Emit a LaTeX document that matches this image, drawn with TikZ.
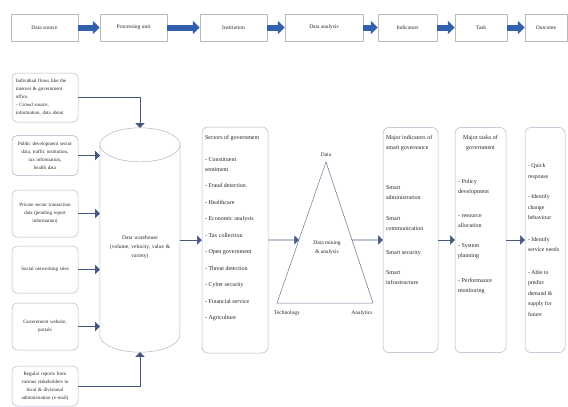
\documentclass[tikz,border=0pt]{standalone}
\usepackage{fontspec}
\setmainfont{Liberation Serif}
\usetikzlibrary{arrows,arrows.meta,calc}
\definecolor{boxgray}{RGB}{172,180,198}
\definecolor{stagegray}{RGB}{185,185,190}
\definecolor{linkblue}{RGB}{70,88,128}
\definecolor{fatblue}{RGB}{50,96,172}

\tikzset{
  stage/.style={draw=stagegray, line width=0.5pt, minimum height=27pt, inner sep=1pt,
    text=black!85, font=\fontsize{5.5}{7}\selectfont},
  source/.style={draw=boxgray, line width=0.5pt, rounded corners=5pt, minimum width=66pt,
    text width=58pt, align=center, inner sep=2pt, text=black!85, font=\fontsize{5}{8}\selectfont},
  column/.style={draw=boxgray, line width=0.5pt, rounded corners=6pt, inner xsep=3pt,
    inner ysep=6pt, text=black!85, font=\fontsize{6}{10}\selectfont},
  fat/.style={line width=6pt, fatblue, -{Triangle[length=7pt,width=13pt]}},
  link/.style={linkblue, line width=0.6pt, ->},
  lbl/.style={inner sep=1pt, text=black!85, font=\fontsize{5.5}{9}\selectfont}
}

\begin{document}
\begin{tikzpicture}[x=1pt, y=-1pt, >=triangle 90]
\useasboundingbox (0,0) rectangle (568,407);
% top row of stages
\node[stage, minimum width=67pt] (tsrc)  at (44.5,27.5)  {Data source};
\node[stage, minimum width=67pt] (tproc) at (133.5,27.5) {Processing unit};
\node[stage, minimum width=67pt] (tinst) at (233.5,27.5) {Institution};
\node[stage, minimum width=78pt] (tana)  at (324,27.5)   {Data analysis};
\node[stage, minimum width=59pt] (tind)  at (407.5,27.5) {Indicators};
\node[stage, minimum width=52pt] (ttask) at (481,27.5)   {Task};
\node[stage, minimum width=42pt] (tout)  at (546,27.5)   {Outcome};
\draw[fat] (tsrc) -- (tproc);
\draw[fat] (tproc) -- (tinst);
\draw[fat] (tinst) -- (tana);
\draw[fat] (tana) -- (tind);
\draw[fat] (tind) -- (ttask);
\draw[fat] (ttask) -- (tout);

% data sources
\node[source, minimum height=49pt, align=left] (src1) at (45,97.5)
  {Individual flows like the\\ internet \& government\\ office.\\ - Crowd source,\\ information, data about};
\node[source, minimum height=40pt] (src2) at (45,155.5)
  {Public development sector\\ data, traffic institution,\\ tax information,\\ health data};
\node[source, minimum height=47pt] (src3) at (45,213.5)
  {Private sector transaction\\ data (pending report\\ information)};
\node[source, minimum height=47pt] (src4) at (45,269.5) {Social networking sites};
\node[source, minimum height=47pt] (src5) at (45,326.5) {Government website,\\ portals};
\node[source, minimum height=40pt] (src6) at (45,386)
  {Regular reports from\\ various stakeholders to\\ local \& divisional\\ administration (e-mail)};

% data warehouse
\node[minimum width=80pt, minimum height=224pt, inner sep=0pt,
  label={[lbl, text width=70pt, align=center, yshift=-7pt]center:{Data warehouse\\ (volume, velocity, value \&\\ variety)}}]
  (dw) at (140,240) {};
\draw[boxgray, line width=0.5pt] ($(dw.north west)+(0,17)$) -- ($(dw.south west)-(0,17)$)
  arc[start angle=180, end angle=360, x radius=40pt, y radius=17pt] -- ($(dw.north east)+(0,17)$);
\draw[boxgray, line width=0.5pt] ($(dw.north)+(0,17)$) ellipse[x radius=40pt, y radius=17pt];

\draw[link] (src1.east) -| (dw.north);
\draw[link] (src2.east) -- (src2.east -| dw.west);
\draw[link] (src3.east) -- (src3.east -| dw.west);
\draw[link] (src4.east) -- (src4.east -| dw.west);
\draw[link] (src5.east) -- (src5.east -| dw.west);
\draw[link] (src6.east) -| (dw.south);

% sectors
\node[column] (sec) at (235,240) {\parbox[c][214pt][t]{60pt}{\raggedright
  \vspace*{2pt}Sectors of government\\[12pt]
  - Constituent\\ sentiment\\[6.5pt]
  - Fraud detection\\[6.5pt]
  - Healthcare\\[6.5pt]
  - Economic analysis\\[6.5pt]
  - Tax collection\\[6.5pt]
  - Open government\\[6.5pt]
  - Threat detection\\[6.5pt]
  - Cyber security\\[6.5pt]
  - Financial service\\[6.5pt]
  - Agriculture}};
\draw[link] (dw.east) -- (sec.west);

% data mining triangle
\coordinate (apex) at (326,162);
\coordinate (tleft) at (277,303);
\coordinate (tright) at (373,303);
\draw[linkblue!80, line width=0.5pt] (apex) -- (tleft) -- (tright) -- cycle;
\node[lbl] (tdata) at (326,155) {Data};
\node[lbl] (ttech) at (287,313) {Technology};
\node[lbl] (tanal) at (362,313) {Analytics};
\node[lbl, align=center] (dmine) at (327,248) {Data mining\\ \& analysis};
\draw[link] (sec.east) -- ($(apex)!0.553!(tleft)$);

% indicators, tasks, outcome
\node[column] (indic) at (410.5,240) {\parbox[c][213pt][t]{49pt}{\raggedright
  \vspace*{2pt}Major indicators of\\ smart governance\\[30pt]
  Smart\\ administration\\[11pt]
  Smart\\ communication\\[14pt]
  Smart security\\[10pt]
  Smart\\ infrastructure}};
\node[column] (tasks) at (480.5,240) {\parbox[c][213pt][t]{45pt}{
  \vspace*{2pt}{\centering Major tasks of\\ government\par}\vspace{24pt}\raggedright
  - Policy\\ development\\[14pt]
  - resource\\ allocation\\[10pt]
  - System\\ planning\\[15pt]
  - Performance\\ monitoring}};
\node[column, font=\fontsize{5.8}{10.5}\selectfont] (outc) at (545,240) {\parbox[c][213pt][c]{34pt}{\raggedright
  - Quick\\ response\\[10pt]
  - Identify\\ change\\ behaviour\\[11pt]
  - Identify\\ service needs\\[12pt]
  - Able to\\ predict\\ demand \&\\ supply for\\ future}};
\draw[link] ($(apex)!0.553!(tright)$) -- (indic.west);
\draw[link] (indic.east) -- (tasks.west);
\draw[link] (tasks.east) -- (outc.west);
\end{tikzpicture}
\end{document}
